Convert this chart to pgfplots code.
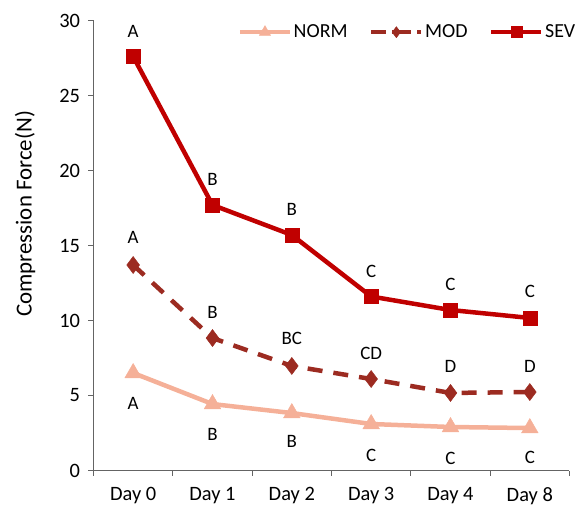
\documentclass[border=0pt]{standalone}
\usepackage{fontspec}
\setmainfont{Carlito}
\usepackage{pgfplots}
\pgfplotsset{compat=1.18}
\usepackage{pgfplotstable}
\definecolor{normc}{RGB}{245,176,152}
\definecolor{modc}{RGB}{156,43,33}
\definecolor{sevc}{RGB}{192,0,0}
\definecolor{axc}{RGB}{100,100,100}
\pgfplotstableread{
x norm mod sev
0 6.5 13.7 27.6
1 4.43 8.83 17.7
2 3.83 6.97 15.7
3 3.1 6.1 11.6
4 2.9 5.17 10.7
5 2.83 5.23 10.17
}\datatab
\pgfplotstableread{
x y lab
0 29.3 A
1 19.43 B
2 17.43 B
3 13.3 C
4 12.43 C
5 11.97 C
0 15.57 A
1 10.57 B
2 8.83 BC
3 7.83 CD
4 6.97 D
5 6.97 D
0 4.5 A
1 2.43 B
2 1.97 B
3 1.03 C
4 0.83 C
5 0.9 C
}\labtab
\begin{document}
\begin{tikzpicture}
\begin{axis}[
  anchor=south west, at={(0,0)},
  scale only axis, width=476bp, height=450bp,
  xmin=-0.5, xmax=5.5, ymin=0, ymax=30,
  axis lines=left, axis line style={-, axc, line width=0.8bp},
  xtick={0,...,5}, xticklabels={Day 0,Day 1,Day 2,Day 3,Day 4,Day 8},
  x tick style={draw=none},
  extra x ticks={-0.5,0.5,1.5,2.5,3.5,4.5,5.5},
  extra x tick labels={},
  extra x tick style={x tick style={draw=axc, line width=0.8bp}, major tick length=5bp, tick align=outside},
  ytick={0,5,...,30},
  y tick style={axc, line width=0.8bp}, major tick length=5bp, tick align=outside,
  tick label style={font=\fontsize{20.5}{20.5}\selectfont},
  /pgf/number format/assume math mode=true,
  xticklabel style={yshift=-8.5bp},
  yticklabel style={xshift=-5bp},
  ylabel={Compression Force(N)},
  every axis y label/.style={at={(axis description cs:-0.1439,0.57)}, rotate=90, anchor=center, font=\fontsize{23}{23}\selectfont},
  clip=false,
  legend style={draw=none, fill=none, inner sep=0pt, font=\fontsize{20}{20}\selectfont, at={(axis description cs:1.0158,0.974)}, anchor=east, legend columns=3, nodes={inner sep=1.5bp}, /tikz/every even column/.append style={column sep=20bp}},
  legend image code/.code={\draw[#1] (0bp,0bp) -- (25bp,0bp) plot[mark repeat=1] coordinates {(25bp,0bp)} -- (50bp,0bp);},
]
\addplot[normc, line width=4.5bp, mark=triangle*, mark size=9.5bp, mark options={solid, line width=0.5bp}, legend image post style={mark size=6.5bp}] table[x=x, y=norm] {\datatab};
\addlegendentry{NORM}
\addplot[modc, line width=4.5bp, dash pattern=on 15bp off 11bp, mark=diamond*, mark size=8.5bp, mark options={solid, line width=0.5bp}, legend image post style={mark size=5.5bp, dash pattern=on 15bp off 6bp}] table[x=x, y=mod] {\datatab};
\addlegendentry{MOD}
\addplot[sevc, line width=4.5bp, mark=square*, mark size=7bp, mark options={solid, line width=0.5bp}, legend image post style={mark size=5.5bp}] table[x=x, y=sev] {\datatab};
\addlegendentry{SEV}
\addplot[draw=none, mark=none, nodes near coords, point meta=explicit symbolic,
  every node near coord/.style={anchor=center, font=\fontsize{19}{19}\selectfont, text=black}, forget plot] table[x=x, y=y, meta=lab] {\labtab};
\end{axis}
\pgfresetboundingbox
\path (-93.5bp,-35.5bp) rectangle (490.5bp,470.5bp);
\end{tikzpicture}
\end{document}
